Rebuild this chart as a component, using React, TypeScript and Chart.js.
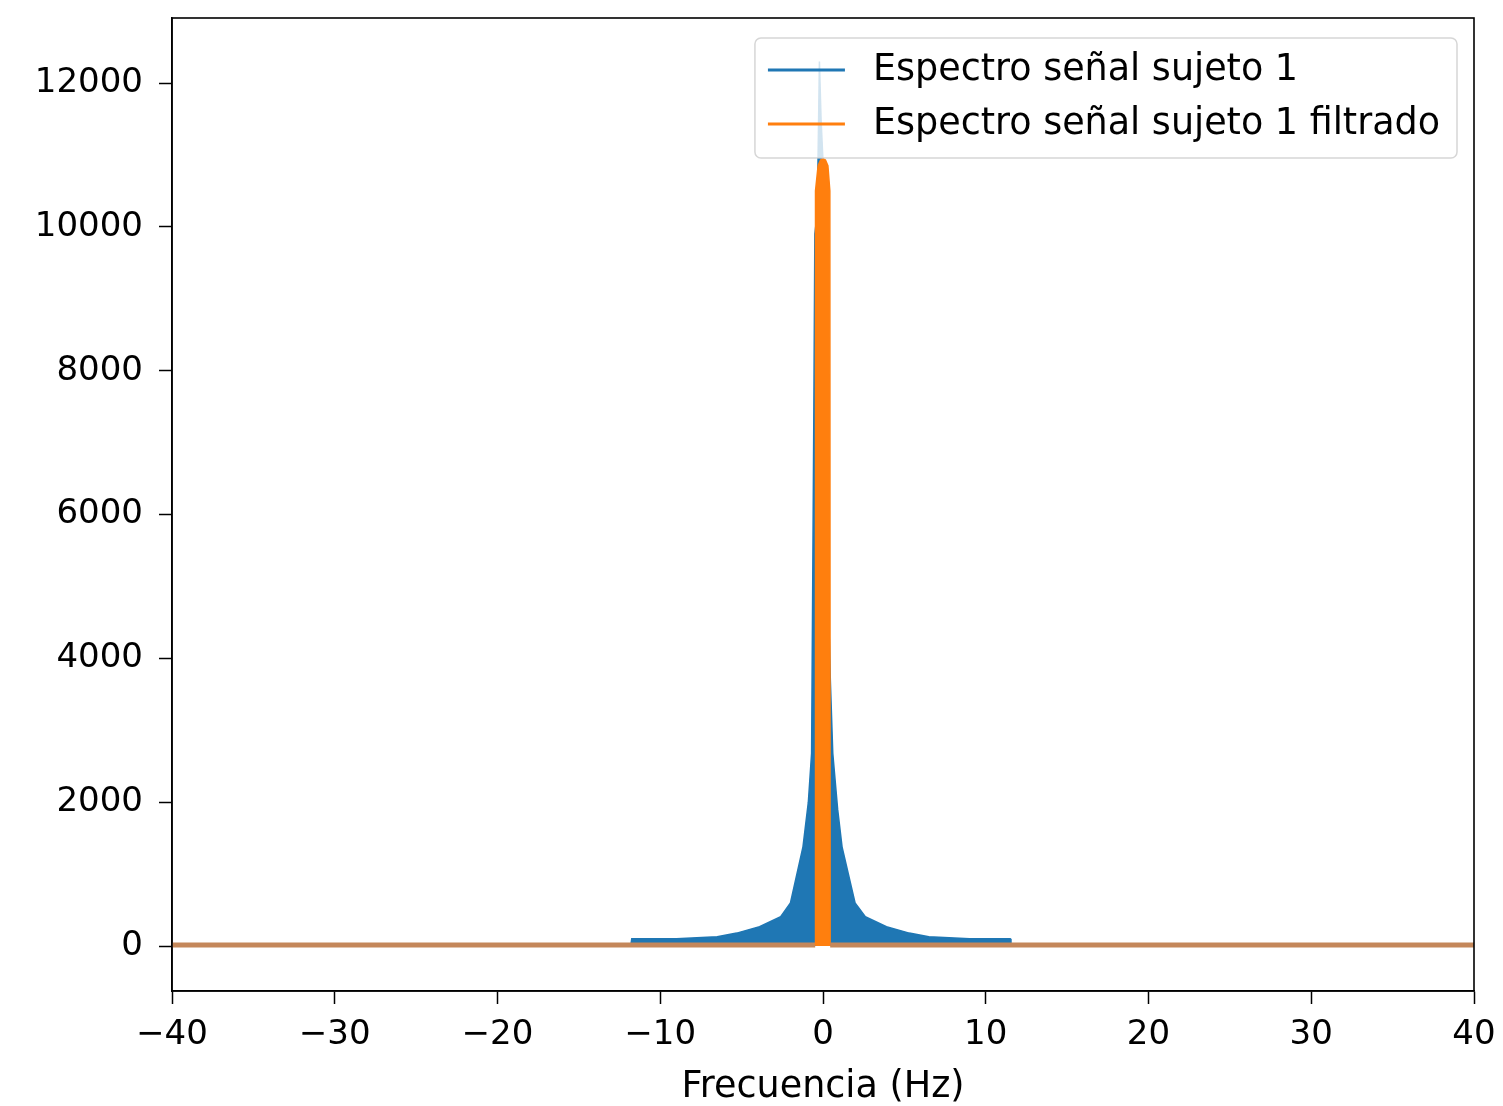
import React, { useEffect, useRef } from "react";
import { Chart, registerables } from "chart.js";

Chart.register(...registerables);

// Spectrum envelope of the raw signal (Hz, magnitude)
const rawFreq = [-40, -11.8, -11.75, -9, -6.5, -5.3, -3.9, -2.6, -2.0, -1.23, -0.9, -0.7, -0.56, -0.5, -0.35, -0.22, -0.12, 0.0, 0.2, 0.45, 0.6, 0.9, 1.17, 1.97, 2.6, 3.9, 5.3, 6.5, 9, 11.5, 11.55, 40];
const rawMag = [20, 20, 100, 100, 130, 180, 268, 408, 600, 1380, 2000, 2680, 7500, 9900, 10200, 12300, 11500, 10900, 6000, 3700, 2680, 1900, 1380, 600, 408, 268, 180, 130, 100, 100, 20, 20];

// Spectrum of the filtered signal
const filtFreq = [-40, -0.48, -0.46, -0.3, -0.15, 0.0, 0.15, 0.3, 0.42, 0.44, 40];
const filtMag = [15, 15, 10500, 10850, 10930, 10950, 10930, 10850, 10500, 15, 15];

const xTicks = [-40, -30, -20, -10, 0, 10, 20, 30, 40];
const yTicks = [0, 2000, 4000, 6000, 8000, 10000, 12000];

const seriesLabels = ["Espectro señal sujeto 1", "Espectro señal sujeto 1 filtrado"];
const xTitle = "Frecuencia (Hz)";

const FONT = '"DejaVu Sans", "Liberation Sans", sans-serif';
const TICK_SIZE = 34;
const TEXT_SIZE = 36.5;
const BLUE = "#1f77b4";
const ORANGE = "#ff7f0e";
const BASE_TAN = "#c4875a";

const framePlugin = {
  id: "mplFrame",
  afterDatasetsDraw(chart: any) {
    const { ctx, chartArea } = chart;
    ctx.save();
    ctx.strokeStyle = "#000";
    ctx.lineWidth = 1.6;
    ctx.strokeRect(chartArea.left, chartArea.top, chartArea.right - chartArea.left, chartArea.bottom - chartArea.top);
    ctx.restore();
  },
};

const legendPlugin = {
  id: "mplLegend",
  afterDraw(chart: any) {
    const { ctx, chartArea } = chart;
    const ds = chart.data.datasets;
    ctx.save();
    ctx.font = `${TEXT_SIZE}px ${FONT}`;
    const textW = Math.max(...ds.map((d: any) => ctx.measureText(d.label).width));
    const right = chartArea.right - 17;
    const top = chartArea.top + 20;
    const padL = 13;
    const handle = 77;
    const gap = 28;
    const padR = 17;
    const width = padL + handle + gap + textW + padR;
    const left = right - width;
    const rowH = 54;
    const height = 120;
    const r = 6;
    ctx.beginPath();
    ctx.moveTo(left + r, top);
    ctx.lineTo(left + width - r, top);
    ctx.arcTo(left + width, top, left + width, top + r, r);
    ctx.lineTo(left + width, top + height - r);
    ctx.arcTo(left + width, top + height, left + width - r, top + height, r);
    ctx.lineTo(left + r, top + height);
    ctx.arcTo(left, top + height, left, top + height - r, r);
    ctx.lineTo(left, top + r);
    ctx.arcTo(left, top, left + r, top, r);
    ctx.closePath();
    ctx.fillStyle = "rgba(255,255,255,0.8)";
    ctx.fill();
    ctx.strokeStyle = "rgba(204,204,204,0.8)";
    ctx.lineWidth = 1.5;
    ctx.stroke();
    ds.forEach((d: any, i: number) => {
      const y = top + 32 + i * rowH;
      ctx.strokeStyle = d.borderColor;
      ctx.lineWidth = 3;
      ctx.beginPath();
      ctx.moveTo(left + padL, y);
      ctx.lineTo(left + padL + handle, y);
      ctx.stroke();
      ctx.fillStyle = "#000";
      ctx.textAlign = "left";
      ctx.textBaseline = "middle";
      ctx.fillText(d.label, left + padL + handle + gap, y + 1);
    });
    ctx.restore();
  },
};

export default function App() {
  const ref = useRef<HTMLCanvasElement | null>(null);
  useEffect(() => {
    if (!ref.current) return;
    const flat = (ctx: any) => ctx.p0.parsed.y < 50 && ctx.p1.parsed.y < 50;
    const chart = new Chart(ref.current, {
      type: "line",
      data: {
        datasets: [
          {
            label: seriesLabels[0],
            data: rawFreq.map((x, i) => ({ x, y: rawMag[i] })),
            borderColor: BLUE,
            backgroundColor: BLUE,
            borderWidth: 1.5,
            pointRadius: 0,
            fill: "origin",
            tension: 0,
            order: 1,
            segment: {
              borderWidth: (ctx: any) => (flat(ctx) ? 3 : 1.5),
              borderColor: () => BLUE,
            },
          },
          {
            label: seriesLabels[1],
            data: filtFreq.map((x, i) => ({ x, y: filtMag[i] })),
            borderColor: ORANGE,
            backgroundColor: ORANGE,
            borderWidth: 1.5,
            pointRadius: 0,
            fill: "origin",
            tension: 0,
            order: 0,
            segment: {
              borderWidth: (ctx: any) => (flat(ctx) ? 5 : 1.5),
              borderColor: (ctx: any) => (flat(ctx) ? BASE_TAN : ORANGE),
            },
          },
        ],
      } as any,
      options: {
        responsive: false,
        animation: false,
        layout: { padding: { left: 0, top: 18, right: 29, bottom: 0 } },
        plugins: {
          legend: { display: false },
          tooltip: { enabled: false },
        },
        scales: {
          x: {
            type: "linear",
            min: -40,
            max: 40,
            afterBuildTicks: (scale: any) => {
              scale.ticks = xTicks.map((v) => ({ value: v }));
            },
            afterFit: (scale: any) => {
              scale.height = 115;
              scale.paddingLeft = 0;
              scale.paddingRight = 0;
            },
            grid: {
              drawOnChartArea: false,
              drawTicks: true,
              tickLength: 13,
              tickColor: "#000",
              tickWidth: 1.5,
            },
            border: { display: true, color: "#000", width: 1.6 },
            ticks: {
              color: "#000",
              font: { family: FONT, size: TICK_SIZE },
              padding: 11,
              maxRotation: 0,
              autoSkip: false,
              callback: (v: any) => (Number(v) < 0 ? "\u2212" + Math.abs(Number(v)) : String(v)),
            },
            title: {
              display: true,
              text: xTitle,
              color: "#000",
              font: { family: FONT, size: TEXT_SIZE },
              padding: { top: 0, bottom: -3 },
            },
          },
          y: {
            type: "linear",
            min: -625,
            max: 12904,
            afterBuildTicks: (scale: any) => {
              scale.ticks = yTicks.map((v) => ({ value: v }));
            },
            afterFit: (scale: any) => {
              scale.width = 172;
              scale.paddingTop = 0;
              scale.paddingBottom = 0;
            },
            grid: {
              drawOnChartArea: false,
              drawTicks: true,
              tickLength: 13,
              tickColor: "#000",
              tickWidth: 1.5,
            },
            border: { display: true, color: "#000", width: 1.6 },
            ticks: {
              color: "#000",
              font: { family: FONT, size: TICK_SIZE },
              padding: 16,
              autoSkip: false,
              callback: (v: any) => String(v),
            },
          },
        },
      } as any,
      plugins: [framePlugin, legendPlugin],
    });
    return () => chart.destroy();
  }, []);
  return (
    <div style={{ position: "fixed", left: 0, top: 0, width: 1503, height: 1106, background: "#fff" }}>
      <canvas ref={ref} width={1503} height={1106} style={{ display: "block" }} />
    </div>
  );
}
